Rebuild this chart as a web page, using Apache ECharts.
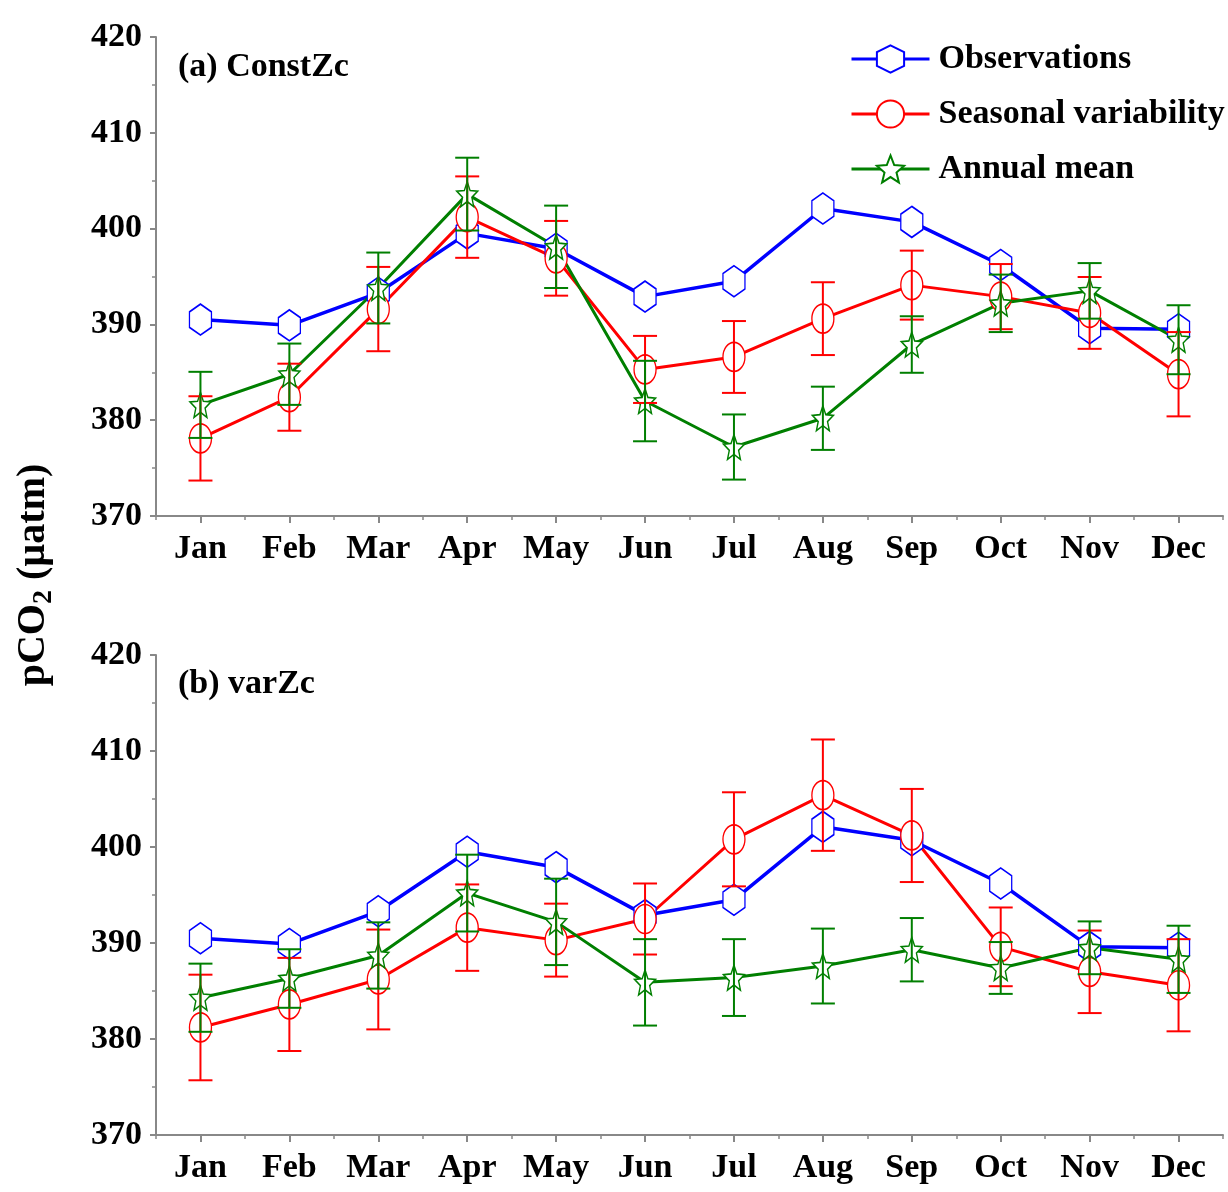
<!DOCTYPE html>
<html>
<head>
<meta charset="utf-8">
<script src="https://cdn.jsdelivr.net/npm/echarts@6/dist/echarts.min.js"></script>
<style>html,body{margin:0;padding:0;background:#fff;}#main{width:1228px;height:1192px;}</style>
</head>
<body>
<div id="main"></div>
<script>
const months = ['Jan','Feb','Mar','Apr','May','Jun','Jul','Aug','Sep','Oct','Nov','Dec'];
const yTicks = [370, 380, 390, 400, 410, 420];
const observations = [390.5, 389.9, 393.3, 399.5, 397.9, 392.9, 394.5, 402.1, 400.7, 396.2, 389.6, 389.5];
// (a) ConstZc
const seasonalA = [378.1, 382.4, 391.6, 401.2, 396.9, 385.3, 386.6, 390.6, 394.1, 392.9, 391.2, 384.8];
const seasonalAErr = [4.4, 3.5, 4.4, 4.25, 3.9, 3.5, 3.75, 3.8, 3.6, 3.4, 3.75, 4.4];
const annualA = [381.6, 384.8, 393.8, 403.6, 398.1, 382.0, 377.2, 380.2, 387.9, 392.2, 393.5, 388.4];
const annualAErr = [3.45, 3.2, 3.7, 3.8, 4.3, 4.2, 3.4, 3.3, 2.95, 3.0, 2.9, 3.6];
// (b) varZc
const seasonalB = [381.2, 383.6, 386.2, 391.6, 390.3, 392.5, 400.8, 405.4, 401.2, 389.6, 387.0, 385.6];
const seasonalBErr = [5.5, 4.85, 5.2, 4.5, 3.8, 3.7, 4.9, 5.8, 4.85, 4.1, 4.3, 4.8];
const annualB = [384.3, 386.3, 388.7, 395.2, 392.2, 385.9, 386.4, 387.6, 389.3, 387.4, 389.5, 388.3];
const annualBErr = [3.55, 3.05, 3.45, 4.0, 4.5, 4.5, 4.0, 3.9, 3.3, 2.7, 2.75, 3.5];

const FONT = 'Liberation Serif';
const BLUE = '#0000ff', RED = '#ff0000', GREEN = '#007f00';
const HEX = 'path://M0,-1 L0.866,-0.5 L0.866,0.5 L0,1 L-0.866,0.5 L-0.866,-0.5 Z';
const STAR = 'path://M0,-1 L0.26,-0.36 L0.951,-0.309 L0.42,0.14 L0.588,0.809 L0,0.44 L-0.588,0.809 L-0.42,0.14 L-0.951,-0.309 L-0.26,-0.36 Z';

const chart = echarts.init(document.getElementById('main'), null, {renderer: 'canvas'});

function makeXAxes(gi) {
  return [
    {type: 'category', gridIndex: gi, data: months, boundaryGap: true,
     axisLine: {show: true, lineStyle: {color: '#888', width: 2}},
     axisTick: {show: true, alignWithLabel: true, length: 7, lineStyle: {color: '#888', width: 2}},
     axisLabel: {fontFamily: FONT, fontWeight: 'bold', fontSize: 34, color: '#000', margin: 16},
     splitLine: {show: false}},
    {type: 'category', gridIndex: gi, data: months, boundaryGap: true, position: 'bottom',
     axisLine: {show: false},
     axisTick: {show: true, length: 4, lineStyle: {color: '#888', width: 1.5}},
     axisLabel: {show: false}, splitLine: {show: false}}
  ];
}
function makeYAxis(gi) {
  return {type: 'value', gridIndex: gi, min: yTicks[0], max: yTicks[yTicks.length - 1], interval: 10,
    axisLine: {show: true, lineStyle: {color: '#888', width: 2}},
    axisTick: {show: true, length: 6, lineStyle: {color: '#888', width: 2}},
    minorTick: {show: true, splitNumber: 2, length: 4, lineStyle: {color: '#888', width: 1.5}},
    axisLabel: {fontFamily: FONT, fontWeight: 'bold', fontSize: 34, color: '#000', margin: 14},
    splitLine: {show: false}};
}
function lineSeries(name, data, gi, color, symbol, size, width) {
  return {type: 'line', name: name, xAxisIndex: gi * 2, yAxisIndex: gi, data: data,
    symbol: symbol, symbolSize: size, z: 2,
    lineStyle: {color: color, width: width},
    itemStyle: {color: '#fff', borderColor: color, borderWidth: 1.5},
    emphasis: {disabled: true}};
}
function errSeries(name, vals, errs, gi, color) {
  return {type: 'custom', name: name, xAxisIndex: gi * 2, yAxisIndex: gi, z: 3,
    data: vals.map((v, i) => [i, v, errs[i]]),
    encode: {x: 0, y: 1},
    renderItem: function (params, api) {
      const x = api.value(0), v = api.value(1), e = api.value(2);
      const top = api.coord([x, v + e]);
      const bot = api.coord([x, v - e]);
      const hw = 12;
      const st = {stroke: color, lineWidth: 2};
      return {type: 'group', children: [
        {type: 'line', shape: {x1: top[0], y1: top[1], x2: bot[0], y2: bot[1]}, style: st},
        {type: 'line', shape: {x1: top[0] - hw, y1: top[1], x2: top[0] + hw, y2: top[1]}, style: st},
        {type: 'line', shape: {x1: bot[0] - hw, y1: bot[1], x2: bot[0] + hw, y2: bot[1]}, style: st}
      ]};
    }};
}

const option = {
  animation: false,
  backgroundColor: '#fff',
  grid: [
    {left: 156, right: 5, top: 37, height: 479},
    {left: 156, right: 5, top: 655, height: 480}
  ],
  xAxis: makeXAxes(0).concat(makeXAxes(1)),
  yAxis: [makeYAxis(0), makeYAxis(1)],
  legend: {
    left: 850, top: 42, orient: 'vertical', padding: 0, itemWidth: 78, itemHeight: 34, itemGap: 21,
    data: ['Observations', 'Seasonal variability', 'Annual mean'],
    lineStyle: {width: 3},
    textStyle: {fontFamily: FONT, fontWeight: 'bold', fontSize: 34, color: '#000', lineHeight: 34, padding: [0, 0, 0, 4]}
  },
  series: [
    lineSeries('Observations', observations, 0, BLUE, HEX, [22, 31], 3.5),
    lineSeries('Seasonal variability', seasonalA, 0, RED, 'circle', [22, 29], 3),
    lineSeries('Annual mean', annualA, 0, GREEN, STAR, [21, 25], 3),
    errSeries('errSeasA', seasonalA, seasonalAErr, 0, RED),
    errSeries('errAnnA', annualA, annualAErr, 0, GREEN),
    lineSeries('Observations', observations, 1, BLUE, HEX, [22, 31], 3.5),
    lineSeries('Seasonal variability', seasonalB, 1, RED, 'circle', [22, 29], 3),
    lineSeries('Annual mean', annualB, 1, GREEN, STAR, [21, 25], 3),
    errSeries('errSeasB', seasonalB, seasonalBErr, 1, RED),
    errSeries('errAnnB', annualB, annualBErr, 1, GREEN)
  ],
  graphic: [
    {type: 'text', x: 34, y: 575, rotation: Math.PI / 2,
     style: {text: '{a|pCO}{b|2}{a| (µatm)}', align: 'center', verticalAlign: 'middle',
       rich: {a: {fontFamily: FONT, fontWeight: 'bold', fontSize: 40, fill: '#000', lineHeight: 48},
              b: {fontFamily: FONT, fontWeight: 'bold', fontSize: 28, fill: '#000', lineHeight: 48, verticalAlign: 'bottom'}}}},
    {type: 'text', x: 178, y: 67,
     style: {text: '(a) ConstZc', fontFamily: FONT, fontWeight: 'bold', fontSize: 34, fill: '#000', verticalAlign: 'middle'}},
    {type: 'text', x: 178, y: 684,
     style: {text: '(b) varZc', fontFamily: FONT, fontWeight: 'bold', fontSize: 34, fill: '#000', verticalAlign: 'middle'}}
  ]
};
chart.setOption(option);
</script>
</body>
</html>
